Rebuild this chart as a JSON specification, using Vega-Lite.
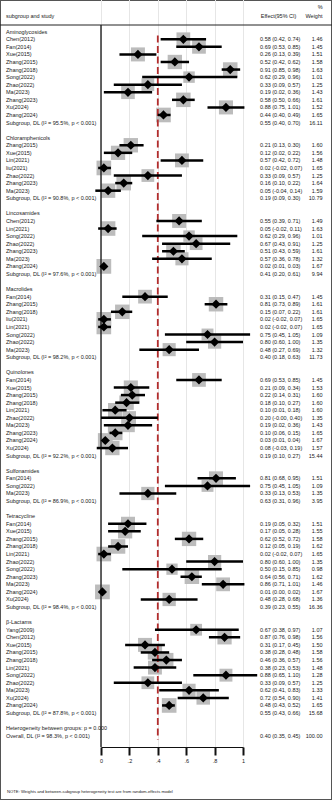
{
  "$schema": "https://vega.github.io/schema/vega-lite/v6.json",
  "width": 332,
  "height": 800,
  "padding": 0,
  "autosize": {"type": "none"},
  "background": "white",
  "config": {
    "view": {"stroke": "#555555", "strokeWidth": 2},
    "font": "Liberation Sans",
    "text": {"font": "Liberation Sans", "fontSize": 5.5, "color": "#1a1a1a", "baseline": "middle"},
    "axisX": {"domainColor": "#111111", "domainWidth": 1, "tickColor": "#111111", "tickWidth": 2, "tickSize": 8,
      "labelFontSize": 5.5, "labelFont": "Liberation Sans", "labelColor": "#222222", "labelPadding": 3,
      "labelFlush": false, "labelOverlap": false, "grid": true, "gridColor": "#e6e6e6", "gridWidth": 1, "offset": -53}
  },
  "data": {"values": [
    {"r": 0, "k": "h", "label": "Aminoglycosides"},
    {"r": 1, "k": "s", "label": "Chen(2012)", "es": 0.58, "lo": 0.42, "hi": 0.74, "ci": "0.58 (0.42, 0.74)", "w": 1.46},
    {"r": 2, "k": "s", "label": "Fan(2014)", "es": 0.69, "lo": 0.53, "hi": 0.85, "ci": "0.69 (0.53, 0.85)", "w": 1.45},
    {"r": 3, "k": "s", "label": "Xue(2015)", "es": 0.26, "lo": 0.13, "hi": 0.39, "ci": "0.26 (0.13, 0.39)", "w": 1.51},
    {"r": 4, "k": "s", "label": "Zhang(2015)", "es": 0.52, "lo": 0.42, "hi": 0.62, "ci": "0.52 (0.42, 0.62)", "w": 1.58},
    {"r": 5, "k": "s", "label": "Zhang(2018)", "es": 0.91, "lo": 0.85, "hi": 0.98, "ci": "0.91 (0.85, 0.98)", "w": 1.63},
    {"r": 6, "k": "s", "label": "Song(2022)", "es": 0.62, "lo": 0.29, "hi": 0.96, "ci": "0.62 (0.29, 0.96)", "w": 1.01},
    {"r": 7, "k": "s", "label": "Zhao(2022)", "es": 0.33, "lo": 0.09, "hi": 0.57, "ci": "0.33 (0.09, 0.57)", "w": 1.25},
    {"r": 8, "k": "s", "label": "Ma(2023)", "es": 0.19, "lo": 0.02, "hi": 0.36, "ci": "0.19 (0.02, 0.36)", "w": 1.43},
    {"r": 9, "k": "s", "label": "Zhang(2023)", "es": 0.58, "lo": 0.50, "hi": 0.66, "ci": "0.58 (0.50, 0.66)", "w": 1.61},
    {"r": 10, "k": "s", "label": "Xu(2024)", "es": 0.88, "lo": 0.75, "hi": 1.01, "ci": "0.88 (0.75, 1.01)", "w": 1.52},
    {"r": 11, "k": "s", "label": "Zhang(2024)", "es": 0.44, "lo": 0.40, "hi": 0.49, "ci": "0.44 (0.40, 0.49)", "w": 1.65},
    {"r": 12, "k": "g", "label": "Subgroup, DL (I² = 95.5%, p < 0.001)", "ci": "0.55 (0.40, 0.70)", "w": 16.11},
    {"r": 14, "k": "h", "label": "Chloramphenicols"},
    {"r": 15, "k": "s", "label": "Zhang(2015)", "es": 0.21, "lo": 0.13, "hi": 0.30, "ci": "0.21 (0.13, 0.30)", "w": 1.60},
    {"r": 16, "k": "s", "label": "Xue(2015)", "es": 0.12, "lo": 0.02, "hi": 0.22, "ci": "0.12 (0.02, 0.22)", "w": 1.56},
    {"r": 17, "k": "s", "label": "Lin(2021)", "es": 0.57, "lo": 0.42, "hi": 0.72, "ci": "0.57 (0.42, 0.72)", "w": 1.48},
    {"r": 18, "k": "s", "label": "liu(2021)", "es": 0.02, "lo": -0.02, "hi": 0.07, "ci": "0.02 (-0.02, 0.07)", "w": 1.65},
    {"r": 19, "k": "s", "label": "Zhao(2022)", "es": 0.33, "lo": 0.09, "hi": 0.57, "ci": "0.33 (0.09, 0.57)", "w": 1.25},
    {"r": 20, "k": "s", "label": "Zhang(2023)", "es": 0.16, "lo": 0.10, "hi": 0.22, "ci": "0.16 (0.10, 0.22)", "w": 1.64},
    {"r": 21, "k": "s", "label": "Ma(2023)", "es": 0.05, "lo": -0.04, "hi": 0.14, "ci": "0.05 (-0.04, 0.14)", "w": 1.59},
    {"r": 22, "k": "g", "label": "Subgroup, DL (I² = 90.8%, p < 0.001)", "ci": "0.19 (0.09, 0.30)", "w": 10.79},
    {"r": 24, "k": "h", "label": "Lincosamides"},
    {"r": 25, "k": "s", "label": "Chen(2012)", "es": 0.55, "lo": 0.39, "hi": 0.71, "ci": "0.55 (0.39, 0.71)", "w": 1.49},
    {"r": 26, "k": "s", "label": "Lin(2021)", "es": 0.05, "lo": -0.02, "hi": 0.11, "ci": "0.05 (-0.02, 0.11)", "w": 1.63},
    {"r": 27, "k": "s", "label": "Song(2022)", "es": 0.62, "lo": 0.29, "hi": 0.96, "ci": "0.62 (0.29, 0.96)", "w": 1.01},
    {"r": 28, "k": "s", "label": "Zhao(2022)", "es": 0.67, "lo": 0.43, "hi": 0.91, "ci": "0.67 (0.43, 0.91)", "w": 1.25},
    {"r": 29, "k": "s", "label": "Zhang(2023)", "es": 0.51, "lo": 0.43, "hi": 0.59, "ci": "0.51 (0.43, 0.59)", "w": 1.61},
    {"r": 30, "k": "s", "label": "Ma(2023)", "es": 0.57, "lo": 0.36, "hi": 0.78, "ci": "0.57 (0.36, 0.78)", "w": 1.32},
    {"r": 31, "k": "s", "label": "Zhang(2024)", "es": 0.02, "lo": 0.01, "hi": 0.03, "ci": "0.02 (0.01, 0.03)", "w": 1.67},
    {"r": 32, "k": "g", "label": "Subgroup, DL (I² = 97.6%, p < 0.001)", "ci": "0.41 (0.20, 0.61)", "w": 9.94},
    {"r": 34, "k": "h", "label": "Macrolides"},
    {"r": 35, "k": "s", "label": "Fan(2014)", "es": 0.31, "lo": 0.15, "hi": 0.47, "ci": "0.31 (0.15, 0.47)", "w": 1.45},
    {"r": 36, "k": "s", "label": "Zhang(2015)", "es": 0.81, "lo": 0.73, "hi": 0.89, "ci": "0.81 (0.73, 0.89)", "w": 1.61},
    {"r": 37, "k": "s", "label": "Zhang(2018)", "es": 0.15, "lo": 0.07, "hi": 0.22, "ci": "0.15 (0.07, 0.22)", "w": 1.61},
    {"r": 38, "k": "s", "label": "liu(2021)", "es": 0.02, "lo": -0.02, "hi": 0.07, "ci": "0.02 (-0.02, 0.07)", "w": 1.65},
    {"r": 39, "k": "s", "label": "Lin(2021)", "es": 0.02, "lo": -0.02, "hi": 0.07, "ci": "0.02 (-0.02, 0.07)", "w": 1.65},
    {"r": 40, "k": "s", "label": "Song(2022)", "es": 0.75, "lo": 0.45, "hi": 1.05, "ci": "0.75 (0.45, 1.05)", "w": 1.09},
    {"r": 41, "k": "s", "label": "Zhao(2022)", "es": 0.80, "lo": 0.60, "hi": 1.00, "ci": "0.80 (0.60, 1.00)", "w": 1.35},
    {"r": 42, "k": "s", "label": "Ma(2023)", "es": 0.48, "lo": 0.27, "hi": 0.69, "ci": "0.48 (0.27, 0.69)", "w": 1.32},
    {"r": 43, "k": "g", "label": "Subgroup, DL (I² = 98.2%, p < 0.001)", "ci": "0.40 (0.18, 0.63)", "w": 11.73},
    {"r": 45, "k": "h", "label": "Quinolones"},
    {"r": 46, "k": "s", "label": "Fan(2014)", "es": 0.69, "lo": 0.53, "hi": 0.85, "ci": "0.69 (0.53, 0.85)", "w": 1.45},
    {"r": 47, "k": "s", "label": "Xue(2015)", "es": 0.21, "lo": 0.09, "hi": 0.34, "ci": "0.21 (0.09, 0.34)", "w": 1.53},
    {"r": 48, "k": "s", "label": "Zhang(2015)", "es": 0.22, "lo": 0.14, "hi": 0.31, "ci": "0.22 (0.14, 0.31)", "w": 1.60},
    {"r": 49, "k": "s", "label": "Zhang(2018)", "es": 0.18, "lo": 0.10, "hi": 0.27, "ci": "0.18 (0.10, 0.27)", "w": 1.60},
    {"r": 50, "k": "s", "label": "Lin(2021)", "es": 0.10, "lo": 0.01, "hi": 0.18, "ci": "0.10 (0.01, 0.18)", "w": 1.60},
    {"r": 51, "k": "s", "label": "Zhao(2022)", "es": 0.20, "lo": 0.00, "hi": 0.40, "ci": "0.20 (-0.00, 0.40)", "w": 1.35},
    {"r": 52, "k": "s", "label": "Ma(2023)", "es": 0.19, "lo": 0.02, "hi": 0.36, "ci": "0.19 (0.02, 0.36)", "w": 1.43},
    {"r": 53, "k": "s", "label": "Zhang(2023)", "es": 0.10, "lo": 0.06, "hi": 0.15, "ci": "0.10 (0.06, 0.15)", "w": 1.65},
    {"r": 54, "k": "s", "label": "Zhang(2024)", "es": 0.03, "lo": 0.01, "hi": 0.04, "ci": "0.03 (0.01, 0.04)", "w": 1.67},
    {"r": 55, "k": "s", "label": "Xu(2024)", "es": 0.08, "lo": -0.03, "hi": 0.19, "ci": "0.08 (-0.03, 0.19)", "w": 1.57},
    {"r": 56, "k": "g", "label": "Subgroup, DL (I² = 92.2%, p < 0.001)", "ci": "0.19 (0.10, 0.27)", "w": 15.44},
    {"r": 58, "k": "h", "label": "Sulfonamides"},
    {"r": 59, "k": "s", "label": "Fan(2014)", "es": 0.81, "lo": 0.68, "hi": 0.95, "ci": "0.81 (0.68, 0.95)", "w": 1.51},
    {"r": 60, "k": "s", "label": "Song(2022)", "es": 0.75, "lo": 0.45, "hi": 1.05, "ci": "0.75 (0.45, 1.05)", "w": 1.09},
    {"r": 61, "k": "s", "label": "Ma(2023)", "es": 0.33, "lo": 0.13, "hi": 0.53, "ci": "0.33 (0.13, 0.53)", "w": 1.35},
    {"r": 62, "k": "g", "label": "Subgroup, DL (I² = 86.9%, p < 0.001)", "ci": "0.63 (0.31, 0.96)", "w": 3.95},
    {"r": 64, "k": "h", "label": "Tetracycline"},
    {"r": 65, "k": "s", "label": "Fan(2014)", "es": 0.19, "lo": 0.05, "hi": 0.32, "ci": "0.19 (0.05, 0.32)", "w": 1.51},
    {"r": 66, "k": "s", "label": "Xue(2015)", "es": 0.17, "lo": 0.05, "hi": 0.28, "ci": "0.17 (0.05, 0.28)", "w": 1.55},
    {"r": 67, "k": "s", "label": "Zhang(2015)", "es": 0.62, "lo": 0.52, "hi": 0.72, "ci": "0.62 (0.52, 0.72)", "w": 1.58},
    {"r": 68, "k": "s", "label": "Zhang(2018)", "es": 0.12, "lo": 0.05, "hi": 0.19, "ci": "0.12 (0.05, 0.19)", "w": 1.62},
    {"r": 69, "k": "s", "label": "Lin(2021)", "es": 0.02, "lo": -0.02, "hi": 0.07, "ci": "0.02 (-0.02, 0.07)", "w": 1.65},
    {"r": 70, "k": "s", "label": "Zhao(2022)", "es": 0.80, "lo": 0.60, "hi": 1.00, "ci": "0.80 (0.60, 1.00)", "w": 1.35},
    {"r": 71, "k": "s", "label": "Song(2022)", "es": 0.50, "lo": 0.15, "hi": 0.85, "ci": "0.50 (0.15, 0.85)", "w": 0.98},
    {"r": 72, "k": "s", "label": "Zhang(2023)", "es": 0.64, "lo": 0.56, "hi": 0.71, "ci": "0.64 (0.56, 0.71)", "w": 1.62},
    {"r": 73, "k": "s", "label": "Ma(2023)", "es": 0.86, "lo": 0.71, "hi": 1.01, "ci": "0.86 (0.71, 1.01)", "w": 1.46},
    {"r": 74, "k": "s", "label": "Zhang(2024)", "es": 0.01, "lo": 0.00, "hi": 0.02, "ci": "0.01 (0.00, 0.02)", "w": 1.67},
    {"r": 75, "k": "s", "label": "Xu(2024)", "es": 0.48, "lo": 0.28, "hi": 0.68, "ci": "0.48 (0.28, 0.68)", "w": 1.36},
    {"r": 76, "k": "g", "label": "Subgroup, DL (I² = 98.4%, p < 0.001)", "ci": "0.39 (0.23, 0.55)", "w": 16.36},
    {"r": 78, "k": "h", "label": "β-Lactams"},
    {"r": 79, "k": "s", "label": "Yang(2009)", "es": 0.67, "lo": 0.38, "hi": 0.97, "ci": "0.67 (0.38, 0.97)", "w": 1.07},
    {"r": 80, "k": "s", "label": "Chen(2012)", "es": 0.87, "lo": 0.76, "hi": 0.98, "ci": "0.87 (0.76, 0.98)", "w": 1.56},
    {"r": 81, "k": "s", "label": "Xue(2015)", "es": 0.31, "lo": 0.17, "hi": 0.45, "ci": "0.31 (0.17, 0.45)", "w": 1.50},
    {"r": 82, "k": "s", "label": "Zhang(2015)", "es": 0.38, "lo": 0.28, "hi": 0.48, "ci": "0.38 (0.28, 0.48)", "w": 1.58},
    {"r": 83, "k": "s", "label": "Zhang(2018)", "es": 0.46, "lo": 0.36, "hi": 0.57, "ci": "0.46 (0.36, 0.57)", "w": 1.56},
    {"r": 84, "k": "s", "label": "Lin(2021)", "es": 0.38, "lo": 0.23, "hi": 0.53, "ci": "0.38 (0.23, 0.53)", "w": 1.48},
    {"r": 85, "k": "s", "label": "Song(2022)", "es": 0.88, "lo": 0.65, "hi": 1.10, "ci": "0.88 (0.65, 1.10)", "w": 1.28},
    {"r": 86, "k": "s", "label": "Zhao(2022)", "es": 0.33, "lo": 0.09, "hi": 0.57, "ci": "0.33 (0.09, 0.57)", "w": 1.25},
    {"r": 87, "k": "s", "label": "Ma(2023)", "es": 0.62, "lo": 0.41, "hi": 0.83, "ci": "0.62 (0.41, 0.83)", "w": 1.33},
    {"r": 88, "k": "s", "label": "Xu(2024)", "es": 0.72, "lo": 0.54, "hi": 0.90, "ci": "0.72 (0.54, 0.90)", "w": 1.41},
    {"r": 89, "k": "s", "label": "Zhang(2024)", "es": 0.48, "lo": 0.43, "hi": 0.52, "ci": "0.48 (0.43, 0.52)", "w": 1.65},
    {"r": 90, "k": "g", "label": "Subgroup, DL (I² = 87.8%, p < 0.001)", "ci": "0.55 (0.43, 0.66)", "w": 15.68},
    {"r": 92, "k": "t", "label": "Heterogeneity between groups: p = 0.000"},
    {"r": 93, "k": "o", "label": "Overall, DL (I² = 98.3%, p < 0.001)", "es": 0.40, "lo": 0.35, "hi": 0.45, "ci": "0.40 (0.35, 0.45)", "w": 100.00}
  ]},
  "layer": [
    {
      "transform": [{"filter": "datum.k == 's'"}],
      "mark": {"type": "square", "color": "#bcbcbc", "filled": true, "opacity": 1},
      "encoding": {
        "x": {"field": "es", "type": "quantitative",
          "scale": {"domain": [0, 1], "range": [101, 243], "nice": false, "zero": false},
          "axis": {"title": null, "values": [0, 0.2, 0.4, 0.6, 0.8, 1],
            "labelExpr": "datum.value == 0 ? '0' : (datum.value == 1 ? '1' : '.' + format(datum.value * 10, 'd'))"}},
        "y": {"field": "r", "type": "quantitative", "scale": {"domain": [-4.188, 101.49], "reverse": true, "nice": false, "zero": false}, "axis": null},
        "size": {"field": "w", "type": "quantitative", "scale": {"domain": [0, 2], "range": [0, 260]}, "legend": null}
      }
    },
    {
      "data": {"values": [{}]},
      "mark": {"type": "rule", "color": "#111111", "strokeWidth": 1.3},
      "encoding": {
        "x": {"datum": 0.000001, "type": "quantitative", "scale": {"domain": [0, 1], "range": [101, 243], "nice": false, "zero": false},
          "axis": {"title": null, "values": [0, 0.2, 0.4, 0.6, 0.8, 1],
            "labelExpr": "datum.value == 0 ? '0' : (datum.value == 1 ? '1' : '.' + format(datum.value * 10, 'd'))"}},
        "y": {"datum": -0.885, "type": "quantitative", "scale": {"domain": [-4.188, 101.49], "reverse": true, "nice": false, "zero": false}, "axis": null},
        "y2": {"datum": 94.49}
      }
    },
    {
      "transform": [{"filter": "datum.k == 'o'"}],
      "mark": {"type": "rule", "color": "#b22d2d", "strokeWidth": 1.8, "strokeDash": [7, 3.5]},
      "encoding": {
        "x": {"field": "es", "type": "quantitative", "scale": {"domain": [0, 1], "range": [101, 243], "nice": false, "zero": false},
          "axis": {"title": null, "values": [0, 0.2, 0.4, 0.6, 0.8, 1],
            "labelExpr": "datum.value == 0 ? '0' : (datum.value == 1 ? '1' : '.' + format(datum.value * 10, 'd'))"}},
        "y": {"datum": 0.5, "type": "quantitative", "scale": {"domain": [-4.188, 101.49], "reverse": true, "nice": false, "zero": false}, "axis": null},
        "y2": {"datum": 93.5}
      }
    },
    {
      "transform": [{"filter": "datum.k == 's'"}],
      "mark": {"type": "rule", "color": "#000000", "strokeWidth": 2.5},
      "encoding": {
        "x": {"field": "lo", "type": "quantitative", "scale": {"domain": [0, 1], "range": [101, 243], "nice": false, "zero": false},
          "axis": {"title": null, "values": [0, 0.2, 0.4, 0.6, 0.8, 1],
            "labelExpr": "datum.value == 0 ? '0' : (datum.value == 1 ? '1' : '.' + format(datum.value * 10, 'd'))"}},
        "x2": {"field": "hi"},
        "y": {"field": "r", "type": "quantitative", "scale": {"domain": [-4.188, 101.49], "reverse": true, "nice": false, "zero": false}, "axis": null}
      }
    },
    {
      "transform": [{"filter": "datum.k == 's'"}],
      "mark": {"type": "point", "shape": "diamond", "filled": true, "color": "#000000", "size": 85, "opacity": 1},
      "encoding": {
        "x": {"field": "es", "type": "quantitative", "scale": {"domain": [0, 1], "range": [101, 243], "nice": false, "zero": false},
          "axis": {"title": null, "values": [0, 0.2, 0.4, 0.6, 0.8, 1],
            "labelExpr": "datum.value == 0 ? '0' : (datum.value == 1 ? '1' : '.' + format(datum.value * 10, 'd'))"}},
        "y": {"field": "r", "type": "quantitative", "scale": {"domain": [-4.188, 101.49], "reverse": true, "nice": false, "zero": false}, "axis": null}
      }
    },
    {
      "mark": {"type": "text", "align": "left"},
      "encoding": {
        "x": {"datum": -0.669, "type": "quantitative", "scale": {"domain": [0, 1], "range": [101, 243], "nice": false, "zero": false},
          "axis": {"title": null, "values": [0, 0.2, 0.4, 0.6, 0.8, 1],
            "labelExpr": "datum.value == 0 ? '0' : (datum.value == 1 ? '1' : '.' + format(datum.value * 10, 'd'))"}},
        "y": {"field": "r", "type": "quantitative", "scale": {"domain": [-4.188, 101.49], "reverse": true, "nice": false, "zero": false}, "axis": null},
        "text": {"field": "label"}
      }
    },
    {
      "transform": [{"filter": "isValid(datum.ci)"}],
      "mark": {"type": "text", "align": "left"},
      "encoding": {
        "x": {"datum": 1.12, "type": "quantitative", "scale": {"domain": [0, 1], "range": [101, 243], "nice": false, "zero": false},
          "axis": {"title": null, "values": [0, 0.2, 0.4, 0.6, 0.8, 1],
            "labelExpr": "datum.value == 0 ? '0' : (datum.value == 1 ? '1' : '.' + format(datum.value * 10, 'd'))"}},
        "y": {"field": "r", "type": "quantitative", "scale": {"domain": [-4.188, 101.49], "reverse": true, "nice": false, "zero": false}, "axis": null},
        "text": {"field": "ci"}
      }
    },
    {
      "transform": [{"filter": "isValid(datum.w)"}],
      "mark": {"type": "text", "align": "right"},
      "encoding": {
        "x": {"datum": 1.56, "type": "quantitative", "scale": {"domain": [0, 1], "range": [101, 243], "nice": false, "zero": false},
          "axis": {"title": null, "values": [0, 0.2, 0.4, 0.6, 0.8, 1],
            "labelExpr": "datum.value == 0 ? '0' : (datum.value == 1 ? '1' : '.' + format(datum.value * 10, 'd'))"}},
        "y": {"field": "r", "type": "quantitative", "scale": {"domain": [-4.188, 101.49], "reverse": true, "nice": false, "zero": false}, "axis": null},
        "text": {"field": "w", "format": ".2f"}
      }
    },
    {
      "data": {"values": [{}]},
      "mark": {"type": "text", "align": "left"},
      "encoding": {
        "x": {"datum": -0.669, "type": "quantitative", "scale": {"domain": [0, 1], "range": [101, 243], "nice": false, "zero": false},
          "axis": {"title": null, "values": [0, 0.2, 0.4, 0.6, 0.8, 1],
            "labelExpr": "datum.value == 0 ? '0' : (datum.value == 1 ? '1' : '.' + format(datum.value * 10, 'd'))"}},
        "y": {"datum": -2.14, "type": "quantitative", "scale": {"domain": [-4.188, 101.49], "reverse": true, "nice": false, "zero": false}, "axis": null},
        "text": {"value": "subgroup and study"}
      }
    },
    {
      "data": {"values": [{}]},
      "mark": {"type": "text", "align": "left"},
      "encoding": {
        "x": {"datum": 1.125, "type": "quantitative", "scale": {"domain": [0, 1], "range": [101, 243], "nice": false, "zero": false},
          "axis": {"title": null, "values": [0, 0.2, 0.4, 0.6, 0.8, 1],
            "labelExpr": "datum.value == 0 ? '0' : (datum.value == 1 ? '1' : '.' + format(datum.value * 10, 'd'))"}},
        "y": {"datum": -2.14, "type": "quantitative", "scale": {"domain": [-4.188, 101.49], "reverse": true, "nice": false, "zero": false}, "axis": null},
        "text": {"value": "Effect(95% CI)"}
      }
    },
    {
      "data": {"values": [{}]},
      "mark": {"type": "text", "align": "right"},
      "encoding": {
        "x": {"datum": 1.56, "type": "quantitative", "scale": {"domain": [0, 1], "range": [101, 243], "nice": false, "zero": false},
          "axis": {"title": null, "values": [0, 0.2, 0.4, 0.6, 0.8, 1],
            "labelExpr": "datum.value == 0 ? '0' : (datum.value == 1 ? '1' : '.' + format(datum.value * 10, 'd'))"}},
        "y": {"datum": -3.2, "type": "quantitative", "scale": {"domain": [-4.188, 101.49], "reverse": true, "nice": false, "zero": false}, "axis": null},
        "text": {"value": "%"}
      }
    },
    {
      "data": {"values": [{}]},
      "mark": {"type": "text", "align": "right"},
      "encoding": {
        "x": {"datum": 1.56, "type": "quantitative", "scale": {"domain": [0, 1], "range": [101, 243], "nice": false, "zero": false},
          "axis": {"title": null, "values": [0, 0.2, 0.4, 0.6, 0.8, 1],
            "labelExpr": "datum.value == 0 ? '0' : (datum.value == 1 ? '1' : '.' + format(datum.value * 10, 'd'))"}},
        "y": {"datum": -2.12, "type": "quantitative", "scale": {"domain": [-4.188, 101.49], "reverse": true, "nice": false, "zero": false}, "axis": null},
        "text": {"value": "Weight"}
      }
    },
    {
      "data": {"values": [{}]},
      "mark": {"type": "rule", "color": "#222222", "strokeWidth": 1},
      "encoding": {
        "y": {"datum": -0.885, "type": "quantitative", "scale": {"domain": [-4.188, 101.49], "reverse": true, "nice": false, "zero": false}, "axis": null}
      }
    },
    {
      "data": {"values": [{}]},
      "mark": {"type": "text", "align": "left", "fontSize": 4.2},
      "encoding": {
        "x": {"datum": -0.662, "type": "quantitative", "scale": {"domain": [0, 1], "range": [101, 243], "nice": false, "zero": false},
          "axis": {"title": null, "values": [0, 0.2, 0.4, 0.6, 0.8, 1],
            "labelExpr": "datum.value == 0 ? '0' : (datum.value == 1 ? '1' : '.' + format(datum.value * 10, 'd'))"}},
        "y": {"datum": 100.44, "type": "quantitative", "scale": {"domain": [-4.188, 101.49], "reverse": true, "nice": false, "zero": false}, "axis": null},
        "text": {"value": "NOTE: Weights and between-subgroup heterogeneity test are from random-effects model"}
      }
    }
  ]
}
